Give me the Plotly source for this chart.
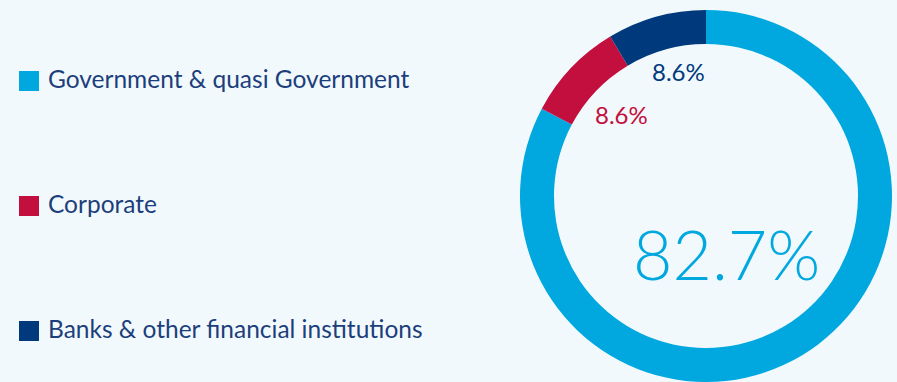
import plotly.graph_objects as go

# Portfolio split by issuer type (drawn clockwise from 12 o'clock)
categories = ["Government & quasi Government", "Corporate", "Banks & other financial institutions"]
shares = [82.7, 8.6, 8.6]
colors = ["#00a8df", "#c20f3d", "#003a7d"]

BG = "#f2f9fc"
TEXT = "#1c3f7c"
FONT = "Lato"

W, H = 897, 382
cx, cy, r_out, r_in = 706, 196, 186, 152  # pixels, from top-left

fig = go.Figure(
    go.Pie(
        labels=categories,
        values=shares,
        marker=dict(colors=colors, line=dict(width=0)),
        hole=r_in / r_out,
        sort=False,
        direction="clockwise",
        rotation=0,
        textinfo="none",
        hoverinfo="label+percent",
        showlegend=False,
        domain=dict(x=[(cx - r_out) / W, (cx + r_out) / W],
                    y=[(H - cy - r_out) / H, (H - cy + r_out) / H]),
    )
)

shapes = []
annotations = []
legend_y = [81, 206, 331]
for name, col, y in zip(categories, colors, legend_y):
    shapes.append(dict(type="rect", xref="paper", yref="paper",
                       x0=19 / W, x1=39 / W, y0=1 - (y + 10) / H, y1=1 - (y - 10) / H,
                       fillcolor=col, line=dict(width=0), layer="above"))
    annotations.append(dict(text=name, xref="paper", yref="paper",
                            x=46 / W, y=1 - (y - 3) / H, xanchor="left", yanchor="middle",
                            showarrow=False, font=dict(family=FONT, size=24.5, color=TEXT)))

# Percentage labels inside the ring
label_pos = [(726, 253, 68), (621, 114, 24), (678, 71, 24)]
for val, col, (x, y, size) in zip(shares, colors, label_pos):
    font = dict(family=FONT, size=size, color=col)
    if size > 40:
        font["weight"] = 300
    annotations.append(dict(text=f"{val}%", xref="paper", yref="paper",
                            x=x / W, y=1 - y / H, xanchor="center", yanchor="middle",
                            showarrow=False, font=font))

fig.update_layout(
    width=W, height=H,
    margin=dict(l=0, r=0, t=0, b=0),
    paper_bgcolor=BG, plot_bgcolor=BG,
    shapes=shapes, annotations=annotations,
)

fig.write_html("out.html")
